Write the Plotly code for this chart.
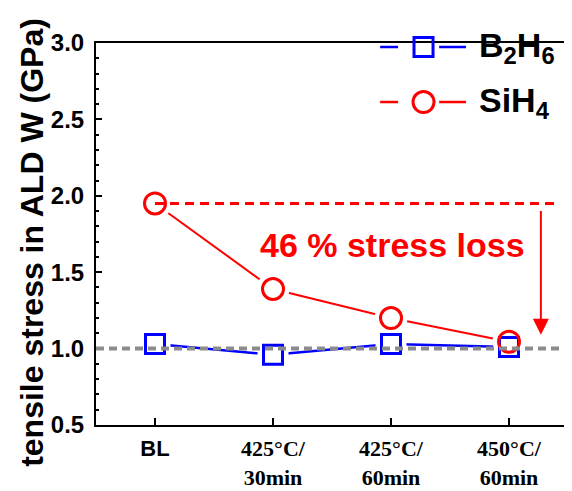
import plotly.graph_objects as go

categories = ["BL", "425°C/<br>30min", "425°C/<br>60min", "450°C/<br>60min"]
b2h6 = [1.03, 0.96, 1.03, 1.01]
sih4 = [1.95, 1.39, 1.20, 1.045]
reference_level = 1.0
loss_label = "46 % stress loss"

x = list(range(len(categories)))
tick_text = ['<span style="font-family:Arial, Liberation Sans">BL</span>'] + categories[1:]

BLUE = "#0000FF"
RED = "#FF0000"

fig = go.Figure()
# connecting lines
fig.add_trace(go.Scatter(x=x, y=b2h6, mode="lines", line=dict(color=BLUE, width=2.5), showlegend=False, hoverinfo="skip"))
fig.add_trace(go.Scatter(x=x, y=sih4, mode="lines", line=dict(color=RED, width=2), showlegend=False, hoverinfo="skip"))
# white halos to create gaps around markers
fig.add_trace(go.Scatter(x=x, y=b2h6, mode="markers", marker=dict(symbol="square", size=31, color="white"), showlegend=False, hoverinfo="skip"))
fig.add_trace(go.Scatter(x=x, y=sih4, mode="markers", marker=dict(symbol="circle", size=33, color="white"), showlegend=False, hoverinfo="skip"))
# markers
fig.add_trace(go.Scatter(x=x, y=b2h6, mode="markers", name="B2H6",
                         marker=dict(symbol="square", size=19, color="rgba(0,0,0,0)", line=dict(color=BLUE, width=3)), showlegend=False))
fig.add_trace(go.Scatter(x=x, y=sih4, mode="markers", name="SiH4",
                         marker=dict(symbol="circle", size=21, color="rgba(0,0,0,0)", line=dict(color=RED, width=3)), showlegend=False))

# reference dashed lines (on top)
fig.add_shape(type="line", xref="paper", yref="y", x0=0, x1=1, y0=reference_level, y1=reference_level,
              line=dict(color="#8C8C8C", width=4, dash="8px,5px"), layer="above")
fig.add_shape(type="line", xref="x", yref="y", x0=x[0], x1=3.39, y0=sih4[0], y1=sih4[0],
              line=dict(color=RED, width=3, dash="9px,6px"), layer="above")

# arrow
fig.add_annotation(x=3.27, y=sih4[-1] + 0.045, ax=3.27, ay=sih4[0] - 0.04, xref="x", yref="y", axref="x", ayref="y",
                   text="", showarrow=True, arrowhead=2, arrowsize=1.6, arrowwidth=2, arrowcolor=RED)
fig.add_annotation(x=2.01, y=1.678, xref="x", yref="y", text=f"<b>{loss_label}</b>", showarrow=False,
                   font=dict(family="Arial, Liberation Sans", size=34, color=RED))

# y title
fig.add_annotation(x=-0.136, y=0.479, xref="paper", yref="paper", text="<b>tensile stress in ALD W (GPa)</b>",
                   textangle=-90, showarrow=False, xanchor="center", yanchor="middle",
                   font=dict(family="Arial, Liberation Sans", size=32, color="black"))

# manual legend
legend_rows = [("B<sub>2</sub>H<sub>6</sub>", BLUE, "rect", 0.9895), ("SiH<sub>4</sub>", RED, "circle", 0.8455)]
for label, col, shp, yy in legend_rows:
    fig.add_shape(type="line", xref="paper", yref="paper", x0=0.602, x1=0.640, y0=yy, y1=yy, line=dict(color=col, width=2.5))
    fig.add_shape(type="line", xref="paper", yref="paper", x0=0.727, x1=0.784, y0=yy, y1=yy, line=dict(color=col, width=2.5))
    half = 9.5 if shp == "rect" else 10.5
    fig.add_shape(type=shp, xref="paper", yref="paper", xsizemode="pixel", ysizemode="pixel",
                  xanchor=0.6939, yanchor=yy, x0=-half, x1=half, y0=-half, y1=half,
                  line=dict(color=col, width=3), fillcolor="rgba(0,0,0,0)")
    fig.add_annotation(x=0.807, y=yy, xref="paper", yref="paper", text=f"<b>{label}</b>", showarrow=False,
                       xanchor="left", yanchor="middle", font=dict(family="Arial, Liberation Sans", size=34, color="black"))

# page body has an 8px margin, so the figure is sized/offset to compensate
fig.update_layout(
    width=564, height=483,
    margin=dict(l=88, r=4, t=35, b=66),
    paper_bgcolor="white", plot_bgcolor="white",
    showlegend=False,
)
fig.update_xaxes(
    range=[-0.5, 3.5], tickmode="array", tickvals=x, ticktext=['<b>' + t + '</b>' for t in tick_text],
    ticks="inside", ticklen=7, tickwidth=2, tickcolor="black",
    showline=True, linewidth=2, linecolor="black", mirror=True,
    showgrid=False, zeroline=False, automargin=False,
    tickfont=dict(family="Liberation Serif, Times New Roman", size=22, color="black"),
    ticklabelstandoff=3,
)
fig.update_yaxes(
    range=[0.5, 3.0], tickmode="array", tickvals=[0.5, 1.0, 1.5, 2.0, 2.5, 3.0],
    ticktext=["<b>0.5</b>", "<b>1.0</b>", "<b>1.5</b>", "<b>2.0</b>", "<b>2.5</b>", "<b>3.0</b>"],
    ticks="inside", ticklen=6, tickwidth=2, tickcolor="black",
    minor=dict(ticks="inside", ticklen=3, tickwidth=2, tickcolor="black", dtick=0.1),
    showline=True, linewidth=2, linecolor="black", mirror=True,
    showgrid=False, zeroline=False, automargin=False,
    tickfont=dict(family="Arial, Liberation Sans", size=24, color="black"),
    ticklabelstandoff=5,
)

fig.write_html("out.html")
